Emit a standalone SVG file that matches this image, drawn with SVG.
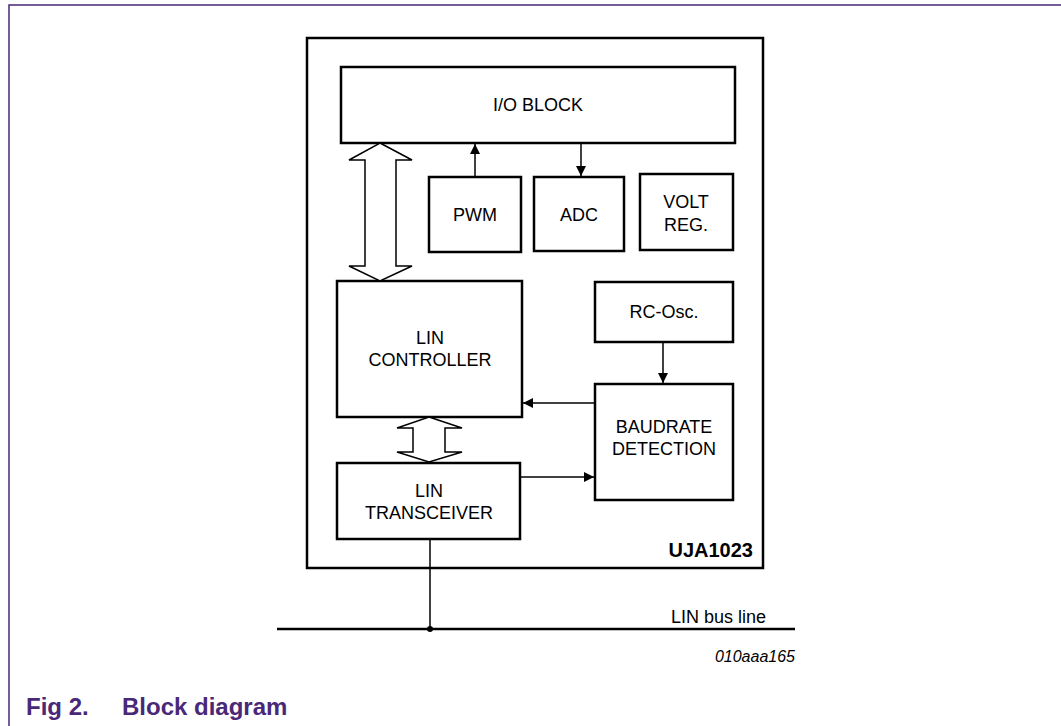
<svg xmlns="http://www.w3.org/2000/svg" width="1061" height="726" viewBox="0 0 1061 726">
<style>
.box{fill:#fff;stroke:#000;stroke-width:2.5}
.lbl{font-family:"Liberation Sans",Arial,sans-serif;font-size:18px;fill:#000;text-anchor:middle}
.conn{stroke:#000;stroke-width:1.5;fill:none}
.dbl{fill:#fff;stroke:#000;stroke-width:1.5;stroke-linejoin:miter}
</style>
<defs>
<marker id="ah" viewBox="0 0 10 10" refX="10" refY="5" markerWidth="11" markerHeight="10" markerUnits="userSpaceOnUse" orient="auto">
<path d="M0,0 L10,5 L0,10 z" fill="#000"/>
</marker>
</defs>
<rect width="1061" height="726" fill="#fff"/>
<g id="frame">
<path d="M9,726 L9,5 L1061,5" fill="none" stroke="#4a2878" stroke-width="1.5"/>
</g>
<g id="chip"><rect class="box" x="307" y="38" width="456" height="530"/>
<text x="753" y="557" style="font-family:'Liberation Sans',Arial,sans-serif;font-size:20px;font-weight:bold;text-anchor:end">UJA1023</text></g>
<g id="io"><rect class="box" x="341" y="67" width="394" height="76"/><text class="lbl" x="538" y="111">I/O BLOCK</text></g>
<g id="pwm"><rect class="box" x="429" y="177" width="92" height="75"/><text class="lbl" x="475" y="221">PWM</text></g>
<g id="adc"><rect class="box" x="534" y="177" width="90" height="74"/><text class="lbl" x="579" y="221">ADC</text></g>
<g id="voltreg"><rect class="box" x="640" y="174" width="93" height="76"/><text class="lbl" x="686" y="208">VOLT</text><text class="lbl" x="686" y="231">REG.</text></g>
<g id="rcosc"><rect class="box" x="595" y="282" width="138" height="60"/><text class="lbl" x="664" y="318">RC-Osc.</text></g>
<g id="baud"><rect class="box" x="595" y="384" width="138" height="116"/><text class="lbl" x="664" y="433">BAUDRATE</text><text class="lbl" x="664" y="455">DETECTION</text></g>
<g id="linctrl"><rect class="box" x="337" y="281" width="185" height="136"/><text class="lbl" x="430" y="344">LIN</text><text class="lbl" x="430" y="366">CONTROLLER</text></g>
<g id="lintrx"><rect class="box" x="337" y="463" width="183" height="76"/><text class="lbl" x="429" y="497">LIN</text><text class="lbl" x="429" y="519">TRANSCEIVER</text></g>
<g id="connectors">
<polygon class="dbl" points="380,143 412,160 396,160 396,266 412,266 380,281 349,266 365,266 365,160 349,160"/>
<polygon class="dbl" points="429,417 462,428 445,428 445,452 462,452 429,462 397,452 413,452 413,428 397,428"/>
<line class="conn" x1="475" y1="177" x2="475" y2="144" marker-end="url(#ah)"/>
<line class="conn" x1="581" y1="143" x2="581" y2="176" marker-end="url(#ah)"/>
<line class="conn" x1="663" y1="342" x2="663" y2="383" marker-end="url(#ah)"/>
<line class="conn" x1="595" y1="403" x2="523" y2="403" marker-end="url(#ah)"/>
<line class="conn" x1="520" y1="477" x2="594" y2="477" marker-end="url(#ah)"/>
<line class="conn" x1="430" y1="539" x2="430" y2="629"/>
<line x1="277" y1="629" x2="795" y2="629" stroke="#000" stroke-width="2.5"/>
<circle cx="430" cy="629" r="3" fill="#000"/>
</g>
<text x="766" y="623" style="font-family:'Liberation Sans',Arial,sans-serif;font-size:18px;text-anchor:end">LIN bus line</text>
<text x="795" y="662" style="font-family:'Liberation Sans',Arial,sans-serif;font-size:16px;font-style:italic;text-anchor:end">010aaa165</text>
<g id="caption" style="font-family:'Liberation Sans',Arial,sans-serif;font-size:24px;font-weight:bold;fill:#4a2878">
<text x="26" y="715">Fig 2.</text><text x="122" y="715">Block diagram</text>
</g>
</svg>
